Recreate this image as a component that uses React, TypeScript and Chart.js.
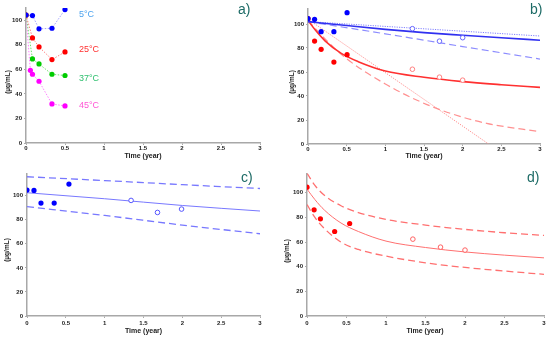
import React, { useEffect, useRef } from 'react';
import { Chart, registerables } from 'chart.js';
Chart.register(...registerables);

// ---------- Panel a) ----------
const timeA = [0, 0.083, 0.167, 0.333, 0.5];
const timeA45 = [0, 0.056, 0.083, 0.167, 0.333, 0.5];
const a5C = [104.3, 103.8, 93, 93.5, 108.7];
const a25C = [104.3, 85.6, 78.3, 68, 74.2];
const a37C = [104.3, 68.5, 64.4, 56, 55];
const a45C = [104.3, 59.2, 56, 50.3, 31.8, 30.2];
const tempLabels = ['5°C', '25°C', '37°C', '45°C'];

// ---------- Panel b) ----------
const timeB = [0, 0.085, 0.17, 0.335, 0.505];
const b5Obs = [104.6, 103.9, 93.6, 93.6, 109.4];
const b25Obs = [104.6, 85.8, 78.9, 68.3, 74.4];
const timeOpenB = [1.35, 1.7, 2.0];
const b5Open = [96.1, 85.7, 88.6];
const b25Open = [62.3, 55.7, 53.2];
const fitTime5 = [0, 0.5, 1, 1.5, 2, 2.5, 3];
const b5Fit = [102, 98.7, 95.5, 92.8, 90.6, 88.5, 86.5];
const linTime5 = [0, 3];
const b5Linear = [102, 90];
const expTime5 = [0, 1, 2, 3];
const b5Exp = [102, 91.8, 81.2, 70.8];
const fitTime25 = [0, 0.1, 0.22, 0.43, 0.65, 1, 1.5, 2, 2.5, 3];
const b25Fit = [103, 94.5, 86, 75.5, 68.6, 60.8, 55.6, 52, 49.4, 47.2];
const linTime25 = [0, 2.335];
const b25Linear = [104, 0];
const expTime25 = [0, 0.25, 0.5, 1, 1.45, 1.84, 2.31, 3];
const b25Exp = [103, 85.6, 71, 50, 35.3, 25.6, 17.2, 10.3];

// ---------- Panel c) ----------
const timeC = [0, 0.09, 0.18, 0.35, 0.54];
const c5Obs = [104.7, 104.4, 93.9, 93.9, 109.7];
const timeOpenC = [1.34, 1.68, 1.99];
const c5Open = [96.1, 86.1, 88.9];
const bandTimeC = [0, 1, 2, 3];
const c5Upper = [115.8, 112.6, 109.2, 106];
const c5Fit = [102.5, 97.5, 91.9, 87.3];
const c5Lower = [90.9, 83.6, 75.6, 68.4];

// ---------- Panel d) ----------
const timeD = [0, 0.09, 0.17, 0.35, 0.54];
const d25Obs = [104.6, 86.2, 78.9, 68.6, 75.1];
const timeOpenD = [1.34, 1.69, 2.0];
const d25Open = [62.4, 55.9, 53.5];
const d25Upper = [116, 106, 98, 89.5, 84, 78.4, 73.8, 70.3, 67.6, 65.4];
const d25Fit = [103, 94.5, 86, 75.5, 68.6, 60.8, 55.6, 52, 49.4, 47.2];
const d25Lower = [90.5, 80, 71, 60, 54, 48.6, 43.2, 39.4, 36.5, 33.8];

const X_TICK_STEP = 0.5;
const Y_TICK_STEP = 20;

const FONT = '"Liberation Sans", Arial, sans-serif';
const TEAL = '#1d6b66';

const pts = (xs: number[], ys: number[]) => xs.map((x, i) => ({ x, y: ys[i] }));

const markers = (xs: number[], ys: number[], color: string, open = false) => ({
  data: pts(xs, ys),
  showLine: false,
  pointRadius: open ? 2.3 : 2.6,
  pointBackgroundColor: open ? '#ffffff' : color,
  pointBorderColor: color,
  pointBorderWidth: open ? 1 : 0,
});

const curve = (xs: number[], ys: number[], color: string, width: number, dash: number[] = []) => ({
  data: pts(xs, ys),
  showLine: true,
  pointRadius: 0,
  borderColor: color,
  borderWidth: width,
  borderDash: dash,
  cubicInterpolationMode: 'monotone',
  fill: false,
});

const dottedSeries = (xs: number[], ys: number[], lineColor: string, pointColor: string) => ({
  data: pts(xs, ys),
  showLine: true,
  borderColor: lineColor,
  borderWidth: 1,
  borderDash: [1.5, 1.5],
  pointRadius: 2.6,
  pointBackgroundColor: pointColor,
  pointBorderColor: pointColor,
  pointBorderWidth: 0,
  tension: 0,
});

type TextItem = { text: string; x: number; y: number; color: string; font: string; align?: CanvasTextAlign; rot?: number };

const textPlugin = (items: TextItem[]) => ({
  id: 'texts',
  afterDraw(chart: any) {
    const ctx = chart.ctx as CanvasRenderingContext2D;
    items.forEach((it) => {
      ctx.save();
      ctx.font = it.font;
      ctx.fillStyle = it.color;
      ctx.textAlign = it.align || 'center';
      ctx.textBaseline = 'middle';
      ctx.translate(it.x, it.y);
      if (it.rot) ctx.rotate(it.rot);
      ctx.fillText(it.text, 0, 0);
      ctx.restore();
    });
  },
});

type PanelSpec = {
  left: number; top: number; w: number; h: number;
  areaLeft: number; areaRight: number; areaTop: number; areaBottom: number;
  ymax: number; xPad: number;
  datasets: any[];
  texts: TextItem[];
};

const axisTexts = (tag: string, s: { tagX: number; tagY: number; yTitleX: number; yTitleY: number; xTitleX: number; xTitleY: number }): TextItem[] => [
  { text: tag, x: s.tagX, y: s.tagY, color: TEAL, font: `14px ${FONT}`, align: 'left' },
  { text: '(µg/mL)', x: s.yTitleX, y: s.yTitleY, color: '#222', font: `bold 6.5px ${FONT}`, rot: -Math.PI / 2 },
  { text: 'Time (year)', x: s.xTitleX, y: s.xTitleY, color: '#222', font: `bold 7px ${FONT}` },
];

function Panel({ spec }: { spec: PanelSpec }) {
  const ref = useRef<HTMLCanvasElement>(null);
  useEffect(() => {
    if (!ref.current) return;
    const tickFont = { family: FONT, size: 6, weight: 'bold' as const };
    const chart = new Chart(ref.current, {
      type: 'scatter',
      data: { datasets: spec.datasets },
      options: {
        animation: false,
        responsive: false,
        events: [],
        layout: {
          autoPadding: false,
          padding: { left: 0, top: spec.areaTop, right: spec.w - spec.areaRight, bottom: 0 },
        },
        plugins: { legend: { display: false }, tooltip: { enabled: false } },
        scales: {
          x: {
            type: 'linear',
            min: 0,
            max: 3,
            afterFit: (s: any) => { s.height = spec.h - spec.areaBottom; },
            ticks: {
              stepSize: X_TICK_STEP, font: tickFont, color: '#222', padding: spec.xPad, maxRotation: 0, autoSkip: false, includeBounds: false,
              callback: (v: any) => String(Number(v)),
            },
            grid: { drawOnChartArea: false, drawTicks: true, tickLength: 2, color: '#aaaaaa' },
            border: { color: '#a8a8a8', width: 1.5 },
          },
          y: {
            type: 'linear',
            min: 0,
            max: spec.ymax,
            afterFit: (s: any) => { s.width = spec.areaLeft; },
            ticks: { stepSize: Y_TICK_STEP, font: tickFont, color: '#222', padding: 2, includeBounds: false, callback: (v: any) => String(Number(v)) },
            grid: { drawOnChartArea: false, drawTicks: true, tickLength: 2, color: '#aaaaaa' },
            border: { color: '#a8a8a8', width: 1.5 },
          },
        },
      } as any,
      plugins: [textPlugin(spec.texts)],
    });
    return () => chart.destroy();
  }, [spec]);
  return (
    <canvas
      ref={ref}
      width={spec.w}
      height={spec.h}
      style={{ position: 'absolute', left: spec.left, top: spec.top, width: spec.w, height: spec.h }}
    />
  );
}

const BLUE = '#0000ff';
const RED = '#ff0000';

const panelA: PanelSpec = {
  left: 0, top: 0, w: 275, h: 168,
  areaLeft: 26, areaRight: 260, areaTop: 8, areaBottom: 143,
  ymax: 110, xPad: 0,
  datasets: [
    dottedSeries(timeA, a5C, '#a0a0ff', BLUE),
    dottedSeries(timeA, a25C, '#ff8080', RED),
    dottedSeries(timeA, a37C, '#70e070', '#00cc00'),
    dottedSeries(timeA45, a45C, '#ff80ff', '#ff00ff'),
  ],
  texts: [
    ...axisTexts('a)', { tagX: 238, tagY: 10, yTitleX: 8, yTitleY: 82, xTitleX: 143, xTitleY: 156 }),
    { text: tempLabels[0], x: 79, y: 15, color: '#4da3ee', font: `9px ${FONT}`, align: 'left' },
    { text: tempLabels[1], x: 79, y: 50, color: '#ff3030', font: `9px ${FONT}`, align: 'left' },
    { text: tempLabels[2], x: 79, y: 79, color: '#30c070', font: `9px ${FONT}`, align: 'left' },
    { text: tempLabels[3], x: 79, y: 106, color: '#ff55d5', font: `9px ${FONT}`, align: 'left' },
  ],
};

const panelB: PanelSpec = {
  left: 275, top: 0, w: 275, h: 168,
  areaLeft: 33, areaRight: 265, areaTop: 9, areaBottom: 144,
  ymax: 112.5, xPad: 0,
  datasets: [
    markers(timeB, b5Obs, BLUE),
    markers(timeOpenB, b5Open, '#6666ff', true),
    markers(timeB, b25Obs, RED),
    markers(timeOpenB, b25Open, '#ff8080', true),
    curve(fitTime5, b5Fit, '#3030f0', 1.6),
    curve(linTime5, b5Linear, '#8080ff', 1, [1.2, 1.2]),
    curve(expTime5, b5Exp, '#8c8cff', 1.2, [7, 4]),
    curve(fitTime25, b25Fit, '#ff3030', 1.6),
    curve(linTime25, b25Linear, '#ff9090', 1, [1.2, 1.2]),
    curve(expTime25, b25Exp, '#ff9090', 1.2, [7, 4]),
  ],
  texts: axisTexts('b)', { tagX: 255, tagY: 10, yTitleX: 17, yTitleY: 82, xTitleX: 149, xTitleY: 156 }),
};

const panelC: PanelSpec = {
  left: 0, top: 168, w: 275, h: 169,
  areaLeft: 27, areaRight: 260, areaTop: 5, areaBottom: 148,
  ymax: 118.4, xPad: 1.5,
  datasets: [
    markers(timeC, c5Obs, BLUE),
    markers(timeOpenC, c5Open, '#5555ff', true),
    curve(bandTimeC, c5Fit, '#7878ff', 1),
    curve(bandTimeC, c5Upper, '#7878ff', 1.3, [7, 4]),
    curve(bandTimeC, c5Lower, '#7878ff', 1.3, [7, 4]),
  ],
  texts: axisTexts('c)', { tagX: 241, tagY: 10, yTitleX: 7, yTitleY: 82, xTitleX: 143.5, xTitleY: 163 }),
};

const panelD: PanelSpec = {
  left: 275, top: 168, w: 275, h: 169,
  areaLeft: 32, areaRight: 269, areaTop: 5, areaBottom: 148,
  ymax: 115.6, xPad: 1.5,
  datasets: [
    markers(timeD, d25Obs, RED),
    markers(timeOpenD, d25Open, '#ff6060', true),
    curve(fitTime25, d25Fit, '#ff7070', 1),
    curve(fitTime25, d25Upper, '#ff7070', 1.3, [7, 4]),
    curve(fitTime25, d25Lower, '#ff7070', 1.3, [7, 4]),
  ],
  texts: axisTexts('d)', { tagX: 252, tagY: 10, yTitleX: 12, yTitleY: 83, xTitleX: 150, xTitleY: 163 }),
};

export default function App() {
  return (
    <div style={{ position: 'absolute', left: 0, top: 0, width: 550, height: 337, background: '#ffffff', overflow: 'hidden' }}>
      <Panel spec={panelA} />
      <Panel spec={panelB} />
      <Panel spec={panelC} />
      <Panel spec={panelD} />
    </div>
  );
}
